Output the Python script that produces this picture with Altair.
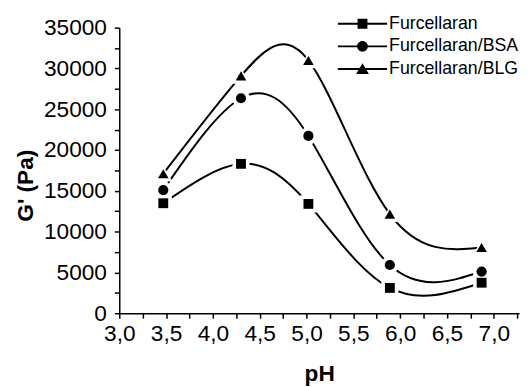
import altair as alt
import pandas as pd

# ---- data ----
ph = [3.47, 4.30, 5.02, 5.89, 6.87]
furcellaran = [13480, 18310, 13400, 3100, 3740]
furcellaran_bsa = [15090, 26350, 21730, 5910, 5110]
furcellaran_blg = [17100, 29090, 30980, 12150, 8050]
series_names = ["Furcellaran", "Furcellaran/BSA", "Furcellaran/BLG"]
x_ticks = [3.0 + 0.25 * i for i in range(18)]
y_ticks = [2500 * i for i in range(15)]

rows = []
for name, vals in zip(series_names, [furcellaran, furcellaran_bsa, furcellaran_blg]):
    for p, v in zip(ph, vals):
        rows.append({"pH": p, "G": v, "series": name})
df = pd.DataFrame(rows)

FONT = "Liberation Sans"

x_enc = alt.X(
    "pH:Q",
    scale=alt.Scale(domain=[3.0, 7.27], nice=False, zero=False),
    axis=alt.Axis(
        values=x_ticks,
        labelExpr="(round(datum.value*4) % 2 == 0) ? replace(format(datum.value, '.1f'), '.', ',') : ''",
        labelFlush=False,
        title="pH",
        titleX=203,
        titleY=68,
        titleBaseline="alphabetic",
        titleAlign="center",
    ),
)
y_enc = alt.Y(
    "G:Q",
    scale=alt.Scale(domain=[0, 35000], nice=False),
    axis=alt.Axis(
        values=y_ticks,
        labelExpr="(datum.value % 5000 == 0) ? format(datum.value, 'd') : ''",
        labelFlush=False,
        title="G' (Pa)",
        titleX=-88,
        titleY=160,
        titleAngle=-90,
        titleBaseline="alphabetic",
        titleAlign="center",
    ),
)

shape_scale = alt.Scale(domain=series_names, range=["square", "circle", "triangle-up"])

base = alt.Chart(df)

lines = base.mark_line(interpolate="natural", color="black", strokeWidth=2).encode(
    x=x_enc, y=y_enc, detail="series:N"
)

halo = base.mark_point(filled=True, color="white", opacity=1, strokeWidth=0).encode(
    x=x_enc,
    y=y_enc,
    shape=alt.Shape("series:N", scale=shape_scale, legend=None),
    size=alt.Size("series:N", scale=alt.Scale(domain=series_names, range=[300, 340, 420]), legend=None),
)

points = base.mark_point(filled=True, color="black", opacity=1, strokeWidth=0).encode(
    x=x_enc,
    y=y_enc,
    shape=alt.Shape("series:N", scale=shape_scale, legend=None),
    size=alt.Size("series:N", scale=alt.Scale(domain=series_names, range=[100, 115, 165]), legend=None),
)

legend_paths = [
    "M-5,-0.2H5V0.2H-5Z M-1,-1H1V1H-1Z",
    "M-5,-0.2H5V0.2H-5Z M-1.1,0A1.1,1.1 0 1,1 1.1,0A1.1,1.1 0 1,1 -1.1,0Z",
    "M-5,-0.2H5V0.2H-5Z M0,-1.15L1.3,1L-1.3,1Z",
]

legend_layer = base.transform_filter("false").mark_point(filled=True, color="black").encode(
    x=x_enc,
    y=y_enc,
    shape=alt.Shape(
        "series:N",
        scale=alt.Scale(domain=series_names, range=legend_paths),
        legend=alt.Legend(
            title=None,
            orient="none",
            legendX=238,
            legendY=-13,
            labelFont=FONT,
            labelFontSize=18,
            labelColor="black",
            labelOffset=18,
            rowPadding=5,
            padding=0,
            symbolSize=100,
            symbolStrokeWidth=0,
            symbolFillColor="black",
            symbolOpacity=1,
        ),
    ),
)

chart = (
    alt.layer(lines, halo, points, legend_layer)
    .resolve_scale(size="independent", shape="independent")
    .properties(
        width=406,
        height=290,
        padding={"left": 113, "top": 17, "right": 4, "bottom": 75},
        autosize=alt.AutoSizeParams(type="none"),
        background="white",
    )
    .configure_view(stroke=None)
    .configure_axis(
        grid=False,
        domainColor="black",
        domainWidth=1.5,
        tickColor="black",
        tickWidth=1.5,
        tickSize=5,
        labelPadding=5,
        labelFont=FONT,
        labelFontSize=23,
        labelColor="black",
        titleFont=FONT,
        titleFontSize=23,
        titleFontWeight="bold",
        titleColor="black",
        labelOverlap=False,
    )
    .configure_axisY(labelPadding=8)
)

chart.save("out.html", embed_options={"renderer": "svg", "actions": False})
